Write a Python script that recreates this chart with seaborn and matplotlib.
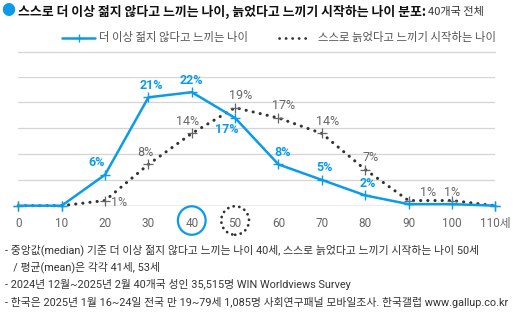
import matplotlib
matplotlib.use("Agg")
import matplotlib.pyplot as plt
import seaborn as sns
import pandas as pd
from matplotlib.patches import Ellipse
from matplotlib.lines import Line2D

sns.set_theme(style="white")
plt.rcParams['font.family'] = ['Noto Sans CJK KR', 'DejaVu Sans']
LATIN = ['Roboto', 'Noto Sans CJK KR', 'DejaVu Sans']

ages = [0, 10, 20, 30, 40, 50, 60, 70, 80, 90, 100, 110]
not_young = [0, 0, 6, 21, 22, 17, 8, 5, 2, 0.3, 0.3, 0]
feel_old = [0, 0, 1, 8, 14, 19, 17, 14, 7, 1, 1, 0]

not_young_labels = {20: "6%", 30: "21%", 40: "22%", 50: "17%", 60: "8%", 70: "5%", 80: "2%"}
feel_old_labels = {20: "1%", 30: "8%", 40: "14%", 50: "19%", 60: "17%", 70: "14%", 80: "7%", 90: "1%", 100: "1%"}

tick_labels = ["0", "10", "20", "30", "40", "50", "60", "70", "80", "90", "100", "110세"]

name_a = "더 이상 젊지 않다고 느끼는 나이"
name_b = "스스로 늙었다고 느끼기 시작하는 나이"

BLUE = "#0b9be9"
DARK = "#333333"
GRAY = "#666666"

df = pd.DataFrame({"age": ages * 2,
                   "pct": not_young + feel_old,
                   "series": [name_a] * len(ages) + [name_b] * len(ages)})

W, H = 524, 322
fig = plt.figure(figsize=(W / 100, H / 100), dpi=100)
ax = fig.add_axes([18.3 / W, (H - 205.7) / H, (495.3 - 18.3) / W, (205.7 - 76.7) / H])

sns.lineplot(data=df[df.series == name_a], x="age", y="pct", ax=ax, color=BLUE,
             lw=1.8, marker="+", markersize=7, markeredgewidth=1.0,
             markeredgecolor=BLUE, legend=False, zorder=4, clip_on=False)
sns.lineplot(data=df[df.series == name_b], x="age", y="pct", ax=ax, color=DARK,
             lw=2.2, linestyle=(0, (0.05, 2.3)), dash_capstyle="round",
             marker="+", markersize=7, markeredgewidth=0.9, markeredgecolor="#666666",
             legend=False, zorder=3, clip_on=False)

ax.set_xlim(0, 110)
ax.set_ylim(0, 25)
ax.set_yticks([0, 5, 10, 15, 20, 25])
ax.set_yticklabels([])
ax.yaxis.grid(True, color="#d4d4d4", lw=0.9)
ax.set_axisbelow(True)
for s in ax.spines.values():
    s.set_visible(False)
ax.axhline(0, color="#bbbbbb", lw=1.0, zorder=1)
ax.set_xticks(ages)
ax.set_xticklabels(tick_labels, family=LATIN)
ax.tick_params(axis="x", direction="in", length=5, width=0.8, color="#bbbbbb",
               labelsize=8.5, labelcolor=GRAY, pad=8)
ax.tick_params(axis="y", length=0)
ax.set_xlabel("")
ax.set_ylabel("")

# value labels (x offset, y offset in points)
a_off = {20: (-6, 4), 30: (2, 4), 40: (0, 4), 50: (-6, -13), 60: (3, 4), 70: (2, 4), 80: (2, 4)}
for x, t in not_young_labels.items():
    y = not_young[ages.index(x)]
    dx, dy = a_off[x]
    ax.annotate(t, (x, y), xytext=(dx, dy), textcoords="offset points", ha="center",
                va="bottom", fontsize=9, fontweight="bold", color=BLUE, zorder=6,
                family=LATIN)
b_off = {30: (-2, 4), 40: (-3, 4), 50: (4, 4), 60: (4, 4), 70: (4, 4),
         80: (4, 4), 90: (14, 1), 100: (0, 1)}
for x, t in feel_old_labels.items():
    y = feel_old[ages.index(x)]
    if x == 20:
        ax.annotate(t, (x, y), xytext=(10, -1.5), textcoords="offset points", ha="center",
                    va="center", fontsize=9, color=GRAY, zorder=6, family=LATIN)
        continue
    dx, dy = b_off[x]
    ax.annotate(t, (x, y), xytext=(dx, dy), textcoords="offset points", ha="center",
                va="bottom", fontsize=9, color=GRAY, zorder=6, family=LATIN)

# circles around the median ages
ytrans = ax.get_xaxis_transform()
ax.add_patch(Ellipse((40, -0.115), width=6.4, height=28.5 / 129, transform=ytrans,
                     fill=False, ec=BLUE, lw=1.6, clip_on=False))
ax.add_patch(Ellipse((50, -0.115), width=6.4, height=28.5 / 129, transform=ytrans,
                     fill=False, ec=DARK, lw=2.0, ls=(0, (0.05, 2.0)),
                     capstyle="round", clip_on=False))

# title
fig.text(8 / W, 1 - 11.5 / H, "●", color=BLUE, fontsize=10, va="center", ha="center")
t1 = fig.text(18 / W, 1 - 11.5 / H,
              "스스로 더 이상 젊지 않다고 느끼는 나이, 늙었다고 느끼기 시작하는 나이 분포:",
              fontsize=9.3, fontweight="bold", color="#111111", va="center")
fig.canvas.draw()
bb = t1.get_window_extent()
fig.text(bb.x1 / W + 2 / W, 1 - 11.5 / H, "40개국 전체", fontsize=8, color="#333333", va="center")

# legend
fig.add_artist(Line2D([62 / W, 95 / W], [1 - 37.5 / H] * 2, color=BLUE, lw=1.8))
fig.add_artist(Line2D([79 / W], [1 - 37.5 / H], color=BLUE, marker="+", markersize=6, mew=1))
fig.text(99 / W, 1 - 37.5 / H, name_a, fontsize=8.2, color="#555555", va="center")
fig.add_artist(Line2D([279 / W, 310 / W], [1 - 37.5 / H] * 2, color=DARK, lw=2.0,
                      ls=(0, (0.05, 2.3)), dash_capstyle="round"))
fig.text(318 / W, 1 - 37.5 / H, name_b, fontsize=8.2, color="#555555", va="center")
fig.add_artist(Line2D([18 / W, 495 / W], [1 - 52 / H] * 2, color="#d4d4d4", lw=0.9))

# notes
notes = [
    (250, "- 중앙값(median) 기준 더 이상 젊지 않다고 느끼는 나이 40세, 스스로 늙었다고 느끼기 시작하는 나이 50세"),
    (267, "   / 평균(mean)은 각각 41세, 53세"),
    (284, "- 2024년 12월~2025년 2월 40개국 성인 35,515명 WIN Worldviews Survey"),
    (302, "- 한국은 2025년 1월 16~24일 전국 만 19~79세 1,085명 사회연구패널 모바일조사. 한국갤럽 www.gallup.co.kr"),
]
for y, t in notes:
    fig.text(5 / W, 1 - y / H, t, fontsize=7.8, color="#333333", va="center", family=LATIN)

fig.savefig("out.png", dpi=100)
